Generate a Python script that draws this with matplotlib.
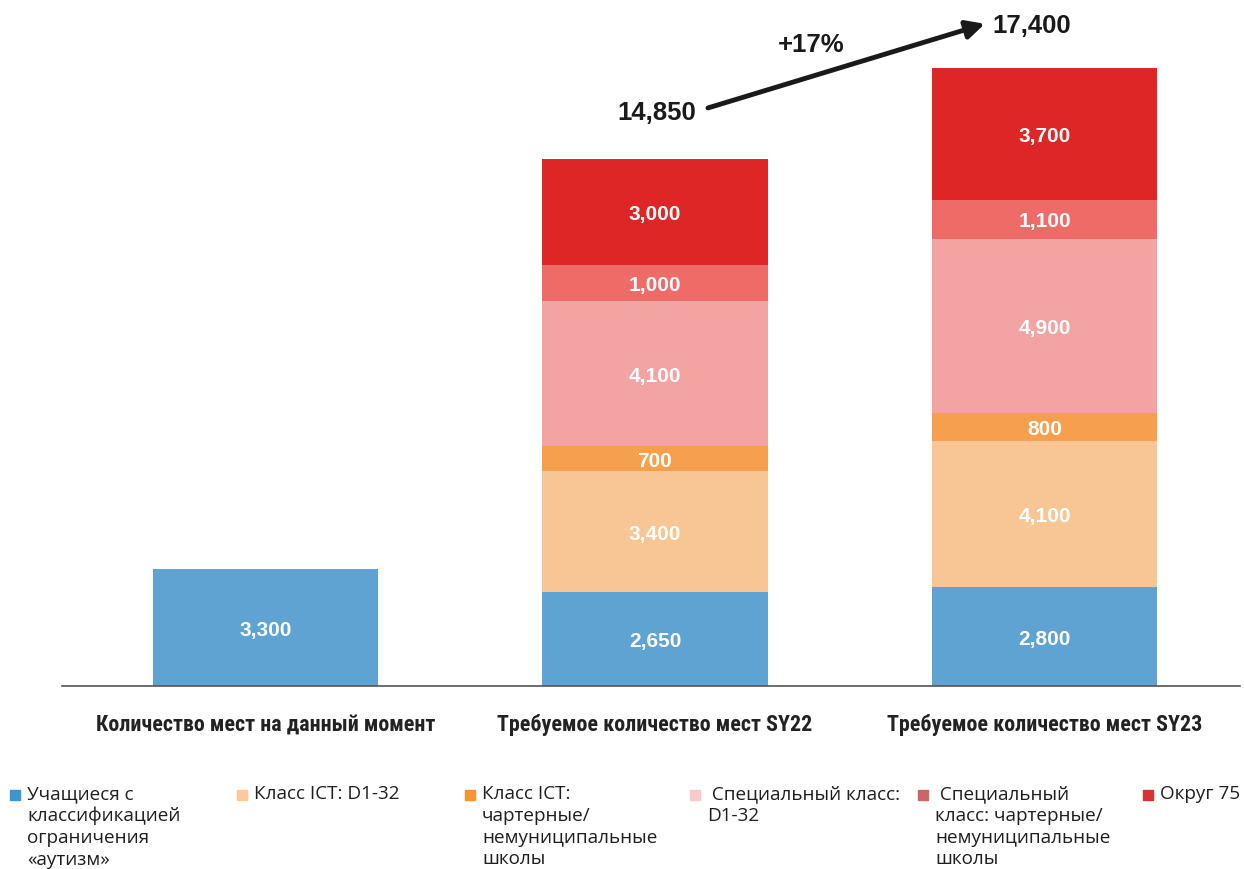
import matplotlib
matplotlib.use("Agg")
import matplotlib.pyplot as plt
from matplotlib.patches import Rectangle

# categories on the x axis
categories = [
    "Количество мест на данный момент",
    "Требуемое количество мест SY22",
    "Требуемое количество мест SY23",
]

# stacked segments, bottom to top
autism     = [3300, 2650, 2800]
ict_d132   = [0, 3400, 4100]
ict_charter = [0, 700, 800]
spec_d132  = [0, 4100, 4900]
spec_charter = [0, 1000, 1100]
district75 = [0, 3000, 3700]

series = [autism, ict_d132, ict_charter, spec_d132, spec_charter, district75]

legend_labels = [
    "Учащиеся с\nклассификацией\nограничения\n«аутизм»",
    "Класс ICT: D1-32",
    "Класс ICT:\nчартерные/\nнемуниципальные\nшколы",
    " Специальный класс:\nD1-32",
    " Специальный\nкласс: чартерные/\nнемуниципальные\nшколы",
    "Округ 75",
]

bar_colors = ["#5fa3d3", "#f8c694", "#f6a04f", "#f4a3a3", "#ee6b67", "#df2626"]
legend_colors = ["#3a96cf", "#fcc99a", "#f7962e", "#fcc9c9", "#cc6666", "#d63333"]

growth_label = "+17%"

W, H = 1244, 869
fig = plt.figure(figsize=(W / 100, H / 100), dpi=100)
ax = fig.add_axes([62 / W, 1 - 686 / H, 1178 / W, 686 / H])

x = list(range(len(categories)))
bar_w = 0.578
bottoms = [0] * len(categories)
for vals, col in zip(series, bar_colors):
    ax.bar(x, vals, bottom=bottoms, width=bar_w, color=col, linewidth=0, zorder=2)
    for i, v in enumerate(vals):
        if v > 0:
            ax.text(x[i], bottoms[i] + v / 2 - 80, f"{v:,}", ha="center", va="center",
                    color="white", fontsize=15, fontweight="bold",
                    family=["Liberation Sans", "DejaVu Sans"], zorder=3)
    bottoms = [b + v for b, v in zip(bottoms, vals)]

totals = bottoms

ax.set_xlim(-0.5225, 2.502)
ax.set_ylim(0, 19320)
for s in ["top", "right", "left"]:
    ax.spines[s].set_visible(False)
ax.spines["bottom"].set_color("#555555")
ax.spines["bottom"].set_linewidth(1.2)
ax.set_yticks([])
ax.set_xticks(x)
ax.set_xticklabels(categories, fontsize=15.8, fontweight="bold", color="#222222",
                   family=["Roboto Condensed", "DejaVu Sans"])
ax.tick_params(axis="x", length=0, pad=20)

# growth arrow between the two totals
x0, y0 = 1.136, totals[1] + 1430
x1, y1 = 1.847, totals[2] + 1250
ax.annotate("", xy=(x1, y1), xytext=(x0, y0),
            arrowprops=dict(arrowstyle="-|>,head_length=1.1,head_width=0.55",
                            color="#1a1a1a", lw=3.5, shrinkA=0, shrinkB=0),
            annotation_clip=False)
ax.text(x0 - 0.03, y0 - 150, f"{totals[1]:,}", ha="right", va="center",
        fontsize=18.5, fontweight="bold", color="#1a1a1a",
        family=["Liberation Sans", "DejaVu Sans"])
ax.text(x1 + 0.02, y1 - 50, f"{totals[2]:,}", ha="left", va="center",
        fontsize=18.5, fontweight="bold", color="#1a1a1a",
        family=["Liberation Sans", "DejaVu Sans"])
ax.text((x0 + x1) / 2 - 0.09, (y0 + y1) / 2 + 580, growth_label, ha="center",
        va="center", fontsize=18.5, fontweight="bold", color="#1a1a1a",
        family=["Liberation Sans", "DejaVu Sans"])

# legend row at the bottom
leg_x = [10, 237, 465, 690, 918, 1143]
for lx, lab, col in zip(leg_x, legend_labels, legend_colors):
    fig.patches.append(Rectangle((lx / W, 1 - 800 / H), 10 / W, 10 / H,
                                 transform=fig.transFigure, color=col))
    fig.text((lx + 17) / W, 1 - 785 / H, lab, ha="left", va="top",
             fontsize=13.6, color="#1e1e1e", linespacing=1.27,
             family=["Open Sans", "DejaVu Sans"])

fig.savefig("out.png", dpi=100)
